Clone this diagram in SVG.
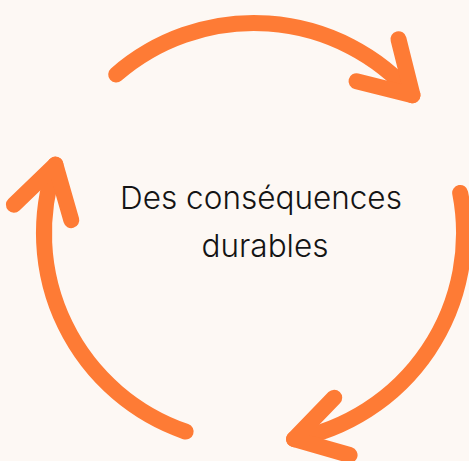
<svg xmlns="http://www.w3.org/2000/svg" width="469" height="461" viewBox="0 0 469 461">
  <style>
    .arc { fill: none; stroke: #FE7B35; stroke-width: 16; stroke-linecap: round; stroke-linejoin: round; }
    .label { font-family: Inter, "Liberation Sans", sans-serif; font-weight: 300; font-size: 31.5px; fill: #141414; text-anchor: middle; }
  </style>
  <defs>
    <g id="cycleArrow">
      <path class="arc" d="M116.2,74.5 A210,210 0 0 1 412.5,95.2"/>
      <path class="arc" d="M398.5,39.2 L412.5,95.2 L356.5,81.2"/>
    </g>
  </defs>
  <rect width="469" height="461" fill="#FDF8F4"/>
  <g id="connectors">
    <use href="#cycleArrow"/>
    <use href="#cycleArrow" transform="rotate(120 254 233)"/>
    <use href="#cycleArrow" transform="rotate(240 254 233)"/>
  </g>
  <g id="node-center">
    <text class="label" x="261" y="209">Des conséquences</text>
    <text class="label" x="265" y="257">durables</text>
  </g>
</svg>
